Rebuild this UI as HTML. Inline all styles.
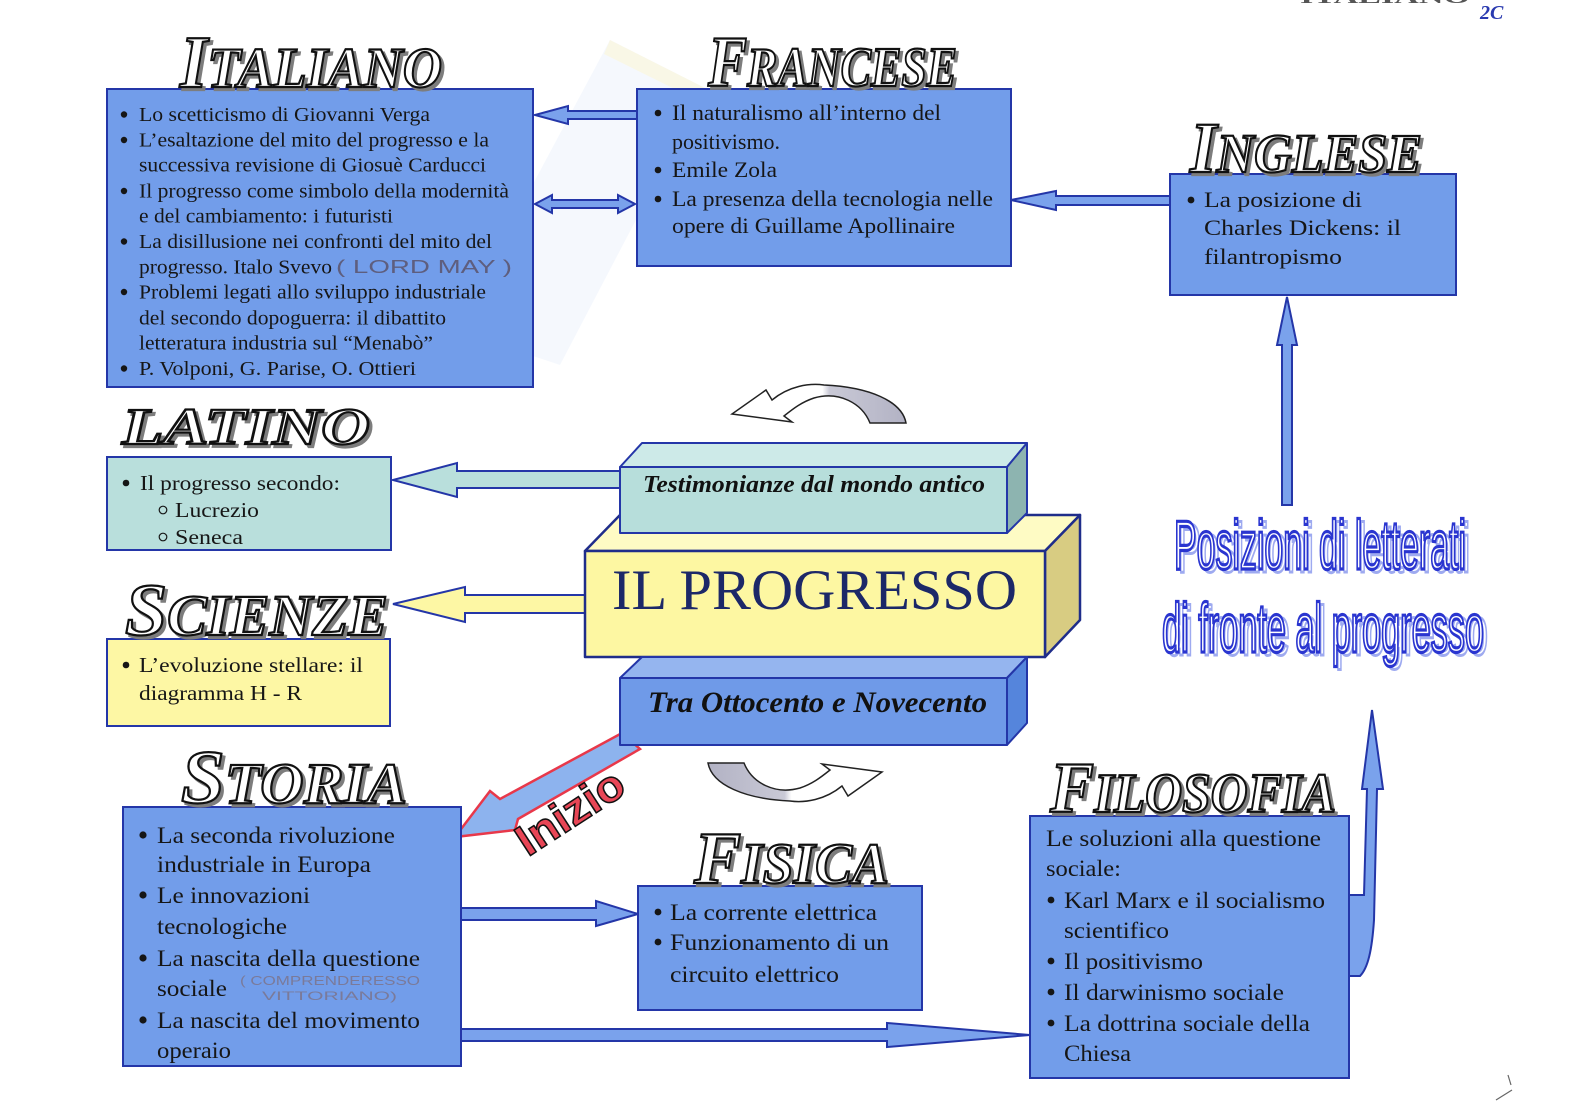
<!DOCTYPE html>
<html><head><meta charset="utf-8"><style>
html,body{margin:0;padding:0;background:#fff;}
svg{display:block;}
.t{font-family:"Liberation Serif",serif;fill:#161616;}
.h{font-family:"Liberation Serif",serif;font-weight:bold;font-style:italic;fill:#fff;stroke:#111;stroke-width:2.2;}
.hs{font-family:"Liberation Serif",serif;font-weight:bold;font-style:italic;fill:#7d7d7d;stroke:#7d7d7d;stroke-width:2.2;}
.bx{fill:#729dea;stroke:#2436a8;stroke-width:2;}
.ar{fill:#7aa2ec;stroke:#2436a8;stroke-width:2;stroke-linejoin:miter;}
</style></head><body>
<svg xmlns="http://www.w3.org/2000/svg" width="1579" height="1116" viewBox="0 0 1579 1116">
<defs>
<linearGradient id="gb" x1="0" y1="0" x2="1" y2="0">
<stop offset="0" stop-color="#b2b2c4"/><stop offset="0.44" stop-color="#c9c9d6"/><stop offset="0.48" stop-color="#ffffff"/><stop offset="1" stop-color="#ffffff"/>
</linearGradient>
</defs>

<!-- watermark (very faint) -->
<polygon points="455,330 610,40 705,88 560,365" fill="#eef3fb" opacity="0.6"/>
<polygon points="610,40 705,88 697,100 604,54" fill="#fbf7dc" opacity="0.7"/>

<!-- arrows -->
<polygon class="ar" points="535,115 568,106 568,111 637,111 637,119 568,119 568,124"/>
<polygon class="ar" points="535,204 552,195 552,200 618,200 618,195 635,204 618,213 618,208 552,208 552,213"/>
<polygon class="ar" points="1011,200 1056,191 1056,196 1170,196 1170,205 1056,205 1056,210"/>
<polygon class="ar" points="1287,297 1297,345 1292,345 1292,505 1282,505 1282,345 1277,345"/>
<polygon class="ar" style="fill:#b9dfdc" points="393,480 457,463 457,471 622,471 622,488 457,488 457,497"/>
<polygon class="ar" style="fill:#fdf7a4" points="393,604 465,587 465,595 587,595 587,613 465,613 465,622"/>
<polygon class="ar" points="461,908 596,908 596,901 638,914 596,926 596,920 461,920"/>
<polygon class="ar" points="461,1029 887,1029 887,1023 1030,1035 887,1047 887,1041 461,1041"/>
<path class="ar" d="M1347,895 L1364,895 L1367,789 L1362,789 L1372,710 L1383,789 L1377,789 L1374,920 C1372,950 1368,968 1360,976 L1347,976 Z"/>
<!-- Inizio arrow -->
<polygon points="455,837 490,791 500,799 622,733 640,749 518,819 515,830" fill="#8db3ee" stroke="#e8384a" stroke-width="2.5" stroke-linejoin="miter"/>

<!-- curved arrows -->
<path d="M708,763 L744,763 C752,783 775,795 800,788 C812,784 820,778 830,770 L822,764 L882,772 L848,796 L842,786 C825,800 805,803 790,801 C745,799 712,785 708,763 Z" fill="url(#gb)" stroke="#222" stroke-width="1.5"/>
<path transform="rotate(180 807 593)" d="M708,763 L744,763 C752,783 775,795 800,788 C812,784 820,778 830,770 L822,764 L882,772 L848,796 L842,786 C825,800 805,803 790,801 C745,799 712,785 708,763 Z" fill="url(#gb)" stroke="#222" stroke-width="1.5"/>

<!-- boxes -->
<rect class="bx" x="107" y="89" width="426" height="298"/>
<rect class="bx" x="637" y="89" width="374" height="177"/>
<rect class="bx" x="1170" y="174" width="286" height="121"/>
<rect class="bx" style="fill:#b9dfdc" x="107" y="457" width="284" height="93"/>
<rect class="bx" style="fill:#fdf7a4" x="107" y="639" width="283" height="87"/>
<rect class="bx" x="123" y="807" width="338" height="259"/>
<rect class="bx" x="638" y="886" width="284" height="124"/>
<rect class="bx" x="1030" y="816" width="319" height="262"/>

<!-- central 3D blocks -->
<g stroke="#1f2d8a" stroke-width="2.5" stroke-linejoin="round">
<polygon points="585,551 620,515 1080,515 1045,551" fill="#fefbc4"/>
<polygon points="1045,551 1080,515 1080,620 1045,657" fill="#d8cc82"/>
<rect x="585" y="551" width="460" height="106" fill="#fdf7a2"/>
</g>
<g stroke="#2436a8" stroke-width="2" stroke-linejoin="round">
<polygon points="620,467 642,443 1027,443 1007,467" fill="#cdeae8"/>
<polygon points="1007,467 1027,443 1027,513 1007,533" fill="#8db4b0"/>
<rect x="620" y="467" width="387" height="66" fill="#b7dedb"/>
<polygon points="620,678 642,657 1027,657 1007,678" fill="#95b5ef"/>
<polygon points="1007,678 1027,657 1027,723 1007,745" fill="#5585dc"/>
<rect x="620" y="678" width="387" height="67" fill="#6f9ae8"/>
</g>
<text x="612" y="609" font-family="Liberation Serif,serif" font-size="57" fill="#1c2868" textLength="405" lengthAdjust="spacingAndGlyphs">IL PROGRESSO</text>
<text x="643" y="492" font-family="Liberation Serif,serif" font-weight="bold" font-style="italic" font-size="24" fill="#111" textLength="342" lengthAdjust="spacingAndGlyphs">Testimonianze dal mondo antico</text>
<text x="648" y="712" font-family="Liberation Serif,serif" font-weight="bold" font-style="italic" font-size="30" fill="#111" textLength="339" lengthAdjust="spacingAndGlyphs">Tra Ottocento e Novecento</text>

<!-- Inizio label -->
<g transform="translate(570,812) rotate(-33)">
<text x="0" y="15" text-anchor="middle" font-family="Liberation Sans,sans-serif" font-weight="bold" font-size="44" fill="#e84656" stroke="#111" stroke-width="1.5" textLength="120" lengthAdjust="spacingAndGlyphs">Inizio</text>
</g>

<!-- ITALIANO text -->
<g fill="#161616">
<circle cx="124" cy="114.5" r="3.2"/><circle cx="124" cy="140" r="3.2"/><circle cx="124" cy="191" r="3.2"/><circle cx="124" cy="241.5" r="3.2"/><circle cx="124" cy="292" r="3.2"/><circle cx="124" cy="368.5" r="3.2"/>
</g>
<g class="t" font-size="20.5">
<text x="139" y="121" textLength="291" lengthAdjust="spacingAndGlyphs">Lo scetticismo di Giovanni Verga</text>
<text x="139" y="146.5" textLength="350" lengthAdjust="spacingAndGlyphs">L’esaltazione del mito del progresso e la</text>
<text x="139" y="171.5" textLength="347" lengthAdjust="spacingAndGlyphs">successiva revisione di Giosuè Carducci</text>
<text x="139" y="197.5" textLength="370" lengthAdjust="spacingAndGlyphs">Il progresso come simbolo della modernità</text>
<text x="139" y="222.5" textLength="254" lengthAdjust="spacingAndGlyphs">e del cambiamento: i futuristi</text>
<text x="139" y="248" textLength="353" lengthAdjust="spacingAndGlyphs">La disillusione nei confronti del mito del</text>
<text x="139" y="273.5" textLength="193" lengthAdjust="spacingAndGlyphs">progresso. Italo Svevo</text>
<text x="139" y="298.5" textLength="347" lengthAdjust="spacingAndGlyphs">Problemi legati allo sviluppo industriale</text>
<text x="139" y="324.5" textLength="307" lengthAdjust="spacingAndGlyphs">del secondo dopoguerra: il dibattito</text>
<text x="139" y="349.5" textLength="294" lengthAdjust="spacingAndGlyphs">letteratura industria sul “Menabò”</text>
<text x="139" y="375" textLength="277" lengthAdjust="spacingAndGlyphs">P. Volponi, G. Parise, O. Ottieri</text>
</g>
<text x="336" y="273" font-family="Liberation Sans,sans-serif" font-size="18" fill="#5e5e7e" textLength="176" lengthAdjust="spacingAndGlyphs">( LORD MAY )</text>

<!-- FRANCESE text -->
<g fill="#161616"><circle cx="658" cy="113" r="3.3"/><circle cx="658" cy="170" r="3.3"/><circle cx="658" cy="199" r="3.3"/></g>
<g class="t" font-size="22">
<text x="672" y="120" textLength="269" lengthAdjust="spacingAndGlyphs">Il naturalismo all’interno del</text>
<text x="672" y="149" textLength="108" lengthAdjust="spacingAndGlyphs">positivismo.</text>
<text x="672" y="177" textLength="105" lengthAdjust="spacingAndGlyphs">Emile Zola</text>
<text x="672" y="206" textLength="321" lengthAdjust="spacingAndGlyphs">La presenza della tecnologia nelle</text>
<text x="672" y="233" textLength="283" lengthAdjust="spacingAndGlyphs">opere di Guillame Apollinaire</text>
</g>

<!-- INGLESE text -->
<circle cx="1191" cy="200" r="3.4" fill="#161616"/>
<g class="t" font-size="22">
<text x="1204" y="207" textLength="158" lengthAdjust="spacingAndGlyphs">La posizione di</text>
<text x="1204" y="235" textLength="197" lengthAdjust="spacingAndGlyphs">Charles Dickens: il</text>
<text x="1204" y="264" textLength="138" lengthAdjust="spacingAndGlyphs">filantropismo</text>
</g>

<!-- LATINO text -->
<circle cx="126" cy="483" r="3.3" fill="#161616"/>
<circle cx="163" cy="510" r="3.8" fill="none" stroke="#161616" stroke-width="1.2"/>
<circle cx="163" cy="537" r="3.8" fill="none" stroke="#161616" stroke-width="1.2"/>
<g class="t" font-size="21.5">
<text x="140" y="490" textLength="200" lengthAdjust="spacingAndGlyphs">Il progresso secondo:</text>
<text x="175" y="517" textLength="84" lengthAdjust="spacingAndGlyphs">Lucrezio</text>
<text x="175" y="544" textLength="68" lengthAdjust="spacingAndGlyphs">Seneca</text>
</g>

<!-- SCIENZE text -->
<circle cx="126" cy="665" r="3.3" fill="#161616"/>
<g class="t" font-size="21.5">
<text x="139" y="672" textLength="224" lengthAdjust="spacingAndGlyphs">L’evoluzione stellare: il</text>
<text x="139" y="700" textLength="163" lengthAdjust="spacingAndGlyphs">diagramma H - R</text>
</g>

<!-- STORIA text -->
<g fill="#161616"><circle cx="143" cy="835" r="3.6"/><circle cx="143" cy="895" r="3.6"/><circle cx="143" cy="958" r="3.6"/><circle cx="143" cy="1020" r="3.6"/></g>
<g class="t" font-size="23.5">
<text x="157" y="843" textLength="238" lengthAdjust="spacingAndGlyphs">La seconda rivoluzione</text>
<text x="157" y="872" textLength="214" lengthAdjust="spacingAndGlyphs">industriale in Europa</text>
<text x="157" y="903" textLength="153" lengthAdjust="spacingAndGlyphs">Le innovazioni</text>
<text x="157" y="934" textLength="130" lengthAdjust="spacingAndGlyphs">tecnologiche</text>
<text x="157" y="966" textLength="263" lengthAdjust="spacingAndGlyphs">La nascita della questione</text>
<text x="157" y="996" textLength="70" lengthAdjust="spacingAndGlyphs">sociale</text>
<text x="157" y="1028" textLength="263" lengthAdjust="spacingAndGlyphs">La nascita del movimento</text>
<text x="157" y="1058" textLength="74" lengthAdjust="spacingAndGlyphs">operaio</text>
</g>
<text x="240" y="985" font-family="Liberation Sans,sans-serif" font-size="13" fill="#7a7a9a" textLength="180" lengthAdjust="spacingAndGlyphs">( COMPRENDERESSO</text>
<text x="262" y="1000" font-family="Liberation Sans,sans-serif" font-size="12" fill="#7a7a9a" textLength="135" lengthAdjust="spacingAndGlyphs">VITTORIANO)</text>

<!-- FISICA text -->
<g fill="#161616"><circle cx="658" cy="912" r="3.4"/><circle cx="658" cy="942" r="3.4"/></g>
<g class="t" font-size="23">
<text x="670" y="920" textLength="207" lengthAdjust="spacingAndGlyphs">La corrente elettrica</text>
<text x="670" y="950" textLength="219" lengthAdjust="spacingAndGlyphs">Funzionamento di un</text>
<text x="670" y="982" textLength="169" lengthAdjust="spacingAndGlyphs">circuito elettrico</text>
</g>

<!-- FILOSOFIA text -->
<g fill="#161616"><circle cx="1051" cy="900" r="3.4"/><circle cx="1051" cy="961" r="3.4"/><circle cx="1051" cy="992" r="3.4"/><circle cx="1051" cy="1023" r="3.4"/></g>
<g class="t" font-size="23">
<text x="1046" y="846" textLength="275" lengthAdjust="spacingAndGlyphs">Le soluzioni alla questione</text>
<text x="1046" y="876" textLength="75" lengthAdjust="spacingAndGlyphs">sociale:</text>
<text x="1064" y="908" textLength="261" lengthAdjust="spacingAndGlyphs">Karl Marx e il socialismo</text>
<text x="1064" y="938" textLength="105" lengthAdjust="spacingAndGlyphs">scientifico</text>
<text x="1064" y="969" textLength="139" lengthAdjust="spacingAndGlyphs">Il positivismo</text>
<text x="1064" y="1000" textLength="220" lengthAdjust="spacingAndGlyphs">Il darwinismo sociale</text>
<text x="1064" y="1031" textLength="246" lengthAdjust="spacingAndGlyphs">La dottrina sociale della</text>
<text x="1064" y="1061" textLength="67" lengthAdjust="spacingAndGlyphs">Chiesa</text>
</g>

<!-- Headers: shadow then main -->
<g transform="translate(3,3)">
<text class="hs" x="180" y="87" font-size="57" textLength="262" lengthAdjust="spacingAndGlyphs"><tspan font-size="74">I</tspan>TALIANO</text>
<text class="hs" x="708" y="86" font-size="56" textLength="249" lengthAdjust="spacingAndGlyphs"><tspan font-size="72">F</tspan>RANCESE</text>
<text class="hs" x="1190" y="172" font-size="55" textLength="232" lengthAdjust="spacingAndGlyphs"><tspan font-size="72">I</tspan>NGLESE</text>
<text class="hs" x="122" y="444" font-size="52" textLength="248" lengthAdjust="spacingAndGlyphs">LATINO</text>
<text class="hs" x="125" y="635" font-size="58" textLength="263" lengthAdjust="spacingAndGlyphs"><tspan font-size="74">S</tspan>CIENZE</text>
<text class="hs" x="181" y="803" font-size="58" textLength="226" lengthAdjust="spacingAndGlyphs"><tspan font-size="76">S</tspan>TORIA</text>
<text class="hs" x="694" y="883" font-size="58" textLength="195" lengthAdjust="spacingAndGlyphs"><tspan font-size="74">F</tspan>ISICA</text>
<text class="hs" x="1050" y="812" font-size="56" textLength="286" lengthAdjust="spacingAndGlyphs"><tspan font-size="72">F</tspan>ILOSOFIA</text>
</g>
<text class="h" x="180" y="87" font-size="57" textLength="262" lengthAdjust="spacingAndGlyphs"><tspan font-size="74">I</tspan>TALIANO</text>
<text class="h" x="708" y="86" font-size="56" textLength="249" lengthAdjust="spacingAndGlyphs"><tspan font-size="72">F</tspan>RANCESE</text>
<text class="h" x="1190" y="172" font-size="55" textLength="232" lengthAdjust="spacingAndGlyphs"><tspan font-size="72">I</tspan>NGLESE</text>
<text class="h" x="122" y="444" font-size="52" textLength="248" lengthAdjust="spacingAndGlyphs">LATINO</text>
<text class="h" x="125" y="635" font-size="58" textLength="263" lengthAdjust="spacingAndGlyphs"><tspan font-size="74">S</tspan>CIENZE</text>
<text class="h" x="181" y="803" font-size="58" textLength="226" lengthAdjust="spacingAndGlyphs"><tspan font-size="76">S</tspan>TORIA</text>
<text class="h" x="694" y="883" font-size="58" textLength="195" lengthAdjust="spacingAndGlyphs"><tspan font-size="74">F</tspan>ISICA</text>
<text class="h" x="1050" y="812" font-size="56" textLength="286" lengthAdjust="spacingAndGlyphs"><tspan font-size="72">F</tspan>ILOSOFIA</text>

<!-- Posizioni di letterati -->
<g font-family="Liberation Sans Narrow,Liberation Sans,sans-serif" font-size="70">
<text x="1178" y="572" fill="none" stroke="#9eaaf0" stroke-width="3" textLength="292" lengthAdjust="spacingAndGlyphs">Posizioni di letterati</text>
<text x="1166" y="655" fill="none" stroke="#9eaaf0" stroke-width="3" textLength="322" lengthAdjust="spacingAndGlyphs">di fronte al progresso</text>
<text x="1174" y="569" fill="#ffffff" stroke="#2a35d0" stroke-width="3.2" textLength="292" lengthAdjust="spacingAndGlyphs">Posizioni di letterati</text>
<text x="1162" y="652" fill="#ffffff" stroke="#2a35d0" stroke-width="3.2" textLength="322" lengthAdjust="spacingAndGlyphs">di fronte al progresso</text>
</g>

<!-- top-right corner marks -->
<text x="1300" y="3" font-family="Liberation Serif,serif" font-weight="bold" font-size="18" fill="#555" textLength="170" lengthAdjust="spacingAndGlyphs">ITALIANO</text>
<text x="1480" y="19" font-family="Liberation Serif,serif" font-weight="bold" font-style="italic" font-size="20" fill="#2a3ab0">2C</text>
<path d="M1508,1075 L1511,1085 M1496,1100 L1512,1090" stroke="#666" stroke-width="1.2" fill="none"/>
</svg>
</body></html>
